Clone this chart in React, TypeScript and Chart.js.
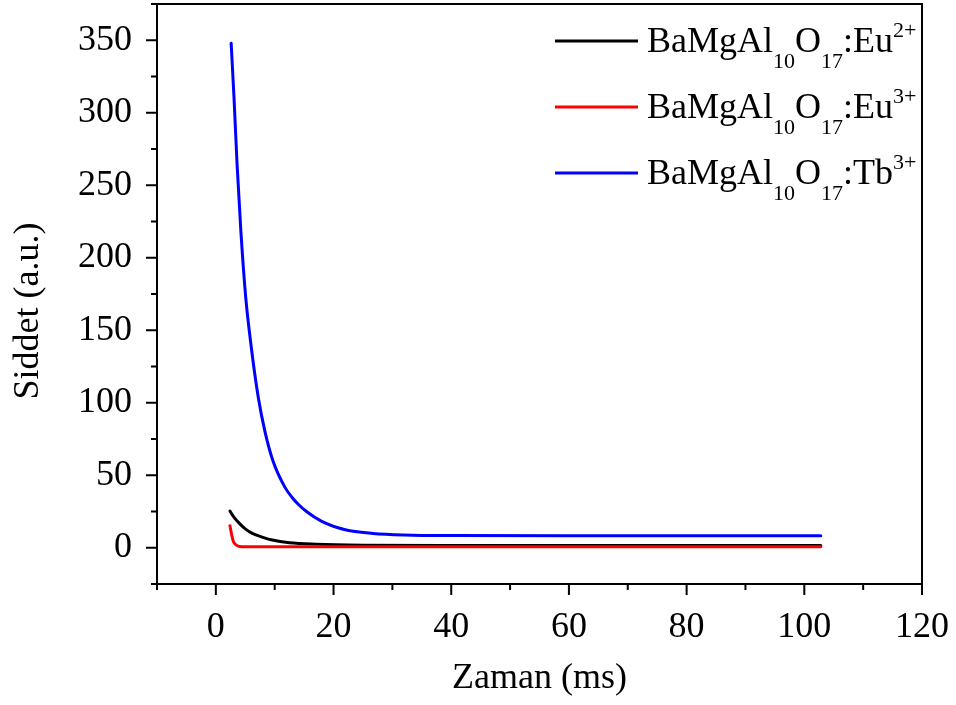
import React, { useEffect, useRef } from 'react';
import { Chart, registerables } from 'chart.js';

Chart.register(...registerables);

const FONT = "'Liberation Serif', 'Times New Roman', serif";

// Series values
const eu2X = [2.4, 3.0, 4.0, 5.0, 6.2, 8.0, 9.6, 12.5, 17.0, 25.0, 40.0, 60.0, 80.0, 102.8];
const eu2Y = [25.3, 21.5, 16.8, 13.0, 9.9, 7.2, 5.3, 3.5, 2.5, 1.8, 1.5, 1.5, 1.5, 1.5];

const eu3X = [2.4, 2.7, 3.0, 3.5, 4.0, 5.2, 20.0, 60.0, 102.8];
const eu3Y = [15.2, 8.8, 4.1, 1.8, 0.9, 0.7, 0.7, 0.7, 0.7];

const tb3X = [2.6, 3.08, 3.6, 4.24, 5.07, 6.0, 7.2, 8.3, 9.7, 11.7, 13.0, 14.0, 15.4, 18.0, 22.0, 26.7, 32.0, 40.0, 60.0, 80.0, 102.8];
const tb3Y = [348, 311, 265, 219, 173, 139, 104, 81, 60, 42, 34.5, 30, 25, 18.2, 12.4, 9.9, 8.8, 8.4, 8.3, 8.3, 8.3];

const seriesColors = ['#000000', '#ff0000', '#0000ff'];

// Legend labels: [text, kind] where kind is n (normal), sub, sup
const legendLabels: [string, string][][] = [
  [['BaMgAl', 'n'], ['10', 'sub'], ['O', 'n'], ['17', 'sub'], [':Eu', 'n'], ['2+', 'sup']],
  [['BaMgAl', 'n'], ['10', 'sub'], ['O', 'n'], ['17', 'sub'], [':Eu', 'n'], ['3+', 'sup']],
  [['BaMgAl', 'n'], ['10', 'sub'], ['O', 'n'], ['17', 'sub'], [':Tb', 'n'], ['3+', 'sup']],
];

const xTitle = 'Zaman (ms)';
const yTitle = 'Siddet (a.u.)';

const xMajorTicks = [0, 20, 40, 60, 80, 100, 120];
const xMinorTicks = [-10, 10, 30, 50, 70, 90, 110];
const yMajorTicks = [0, 50, 100, 150, 200, 250, 300, 350];
const yMinorTicks = [-25, 25, 75, 125, 175, 225, 275, 325, 375];

const toPoints = (xs: number[], ys: number[]) => xs.map((x, i) => ({ x, y: ys[i] }));

const framePlugin = {
  id: 'frameTicksLegend',
  afterDraw(chart: any) {
    const { ctx, chartArea } = chart;
    const xs = chart.scales.x;
    const ys = chart.scales.y;
    const { left, right, top, bottom } = chartArea;
    ctx.save();
    ctx.strokeStyle = '#000';
    ctx.lineWidth = 2;
    ctx.lineCap = 'butt';
    ctx.strokeRect(left, top, right - left, bottom - top);
    ctx.beginPath();
    yMajorTicks.forEach((v) => {
      const p = ys.getPixelForValue(v);
      ctx.moveTo(left, p);
      ctx.lineTo(left - 11, p);
    });
    yMinorTicks.forEach((v) => {
      const p = ys.getPixelForValue(v);
      ctx.moveTo(left, p);
      ctx.lineTo(left - 6, p);
    });
    xMajorTicks.forEach((v) => {
      const p = xs.getPixelForValue(v);
      ctx.moveTo(p, bottom);
      ctx.lineTo(p, bottom + 11);
    });
    xMinorTicks.forEach((v) => {
      const p = xs.getPixelForValue(v);
      ctx.moveTo(p, bottom);
      ctx.lineTo(p, bottom + 6);
    });
    ctx.stroke();

    // y title
    ctx.fillStyle = '#000';
    ctx.font = `36px ${FONT}`;
    ctx.textAlign = 'center';
    ctx.textBaseline = 'alphabetic';
    ctx.save();
    ctx.translate(38, (top + bottom) / 2 + 17);
    ctx.rotate(-Math.PI / 2);
    ctx.fillText(yTitle, 0, 0);
    ctx.restore();

    // legend
    const lx0 = left + 398;
    const lx1 = lx0 + 83;
    legendLabels.forEach((parts, i) => {
      const ly = top + 37 + i * 66;
      ctx.strokeStyle = seriesColors[i];
      ctx.lineWidth = 3;
      ctx.beginPath();
      ctx.moveTo(lx0, ly);
      ctx.lineTo(lx1, ly);
      ctx.stroke();
      let tx = lx1 + 9;
      const base = ly + 11;
      ctx.textAlign = 'left';
      ctx.textBaseline = 'alphabetic';
      ctx.fillStyle = '#000';
      parts.forEach(([t, kind]) => {
        if (kind === 'n') {
          ctx.font = `36px ${FONT}`;
          ctx.fillText(t, tx, base);
        } else if (kind === 'sub') {
          ctx.font = `22px ${FONT}`;
          ctx.fillText(t, tx, base + 16);
        } else {
          ctx.font = `22px ${FONT}`;
          ctx.fillText(t, tx, base - 15);
        }
        tx += ctx.measureText(t).width;
      });
    });
    ctx.restore();
  },
};

const zeroPad = (s: any) => {
  s.paddingTop = 0;
  s.paddingBottom = 0;
  s.paddingLeft = 0;
  s.paddingRight = 0;
};

export default function App() {
  const ref = useRef<HTMLCanvasElement | null>(null);
  useEffect(() => {
    document.body.style.margin = '0';
    const canvas = ref.current;
    if (!canvas) return;
    const mk = (label: string, xs: number[], ys: number[], color: string, order: number) => ({
      label,
      data: toPoints(xs, ys),
      borderColor: color,
      backgroundColor: color,
      borderWidth: 3,
      pointRadius: 0,
      fill: false,
      cubicInterpolationMode: 'monotone' as const,
      borderCapStyle: 'round' as const,
      order,
    });
    const chart = new Chart(canvas, {
      type: 'line',
      data: {
        datasets: [
          mk('Eu2+', eu2X, eu2Y, seriesColors[0], 1),
          mk('Eu3+', eu3X, eu3Y, seriesColors[1], 0),
          mk('Tb3+', tb3X, tb3Y, seriesColors[2], 2),
        ],
      },
      options: {
        animation: false,
        responsive: false,
        devicePixelRatio: 1,
        events: [],
        layout: { padding: { top: 4, right: 34, left: 0, bottom: 0 } },
        plugins: { legend: { display: false }, tooltip: { enabled: false } },
        scales: {
          x: {
            type: 'linear',
            min: -10,
            max: 120,
            grid: { display: false },
            border: { display: false },
            afterBuildTicks: (s: any) => {
              s.ticks = xMajorTicks.map((value) => ({ value }));
            },
            ticks: {
              autoSkip: false,
              maxRotation: 0,
              minRotation: 0,
              padding: 14,
              color: '#000',
              font: { family: FONT, size: 36 },
              callback: (v: any) => String(v),
            },
            title: {
              display: true,
              text: xTitle,
              color: '#000',
              font: { family: FONT, size: 36 },
              padding: { top: 0, bottom: 5 },
            },
            afterFit: (s: any) => {
              s.height = 121;
              zeroPad(s);
            },
          },
          y: {
            type: 'linear',
            min: -25,
            max: 375,
            grid: { display: false },
            border: { display: false },
            afterBuildTicks: (s: any) => {
              s.ticks = yMajorTicks.map((value) => ({ value }));
            },
            ticks: {
              autoSkip: false,
              padding: 17,
              color: '#000',
              font: { family: FONT, size: 36 },
              callback: (v: any) => String(v),
            },
            afterFit: (s: any) => {
              s.width = 157;
              zeroPad(s);
            },
          },
        },
      },
      plugins: [framePlugin],
    });
    return () => chart.destroy();
  }, []);
  return (
    <div style={{ width: 956, height: 705, background: '#fff' }}>
      <canvas ref={ref} width={956} height={705} style={{ display: 'block', width: 956, height: 705 }} />
    </div>
  );
}
